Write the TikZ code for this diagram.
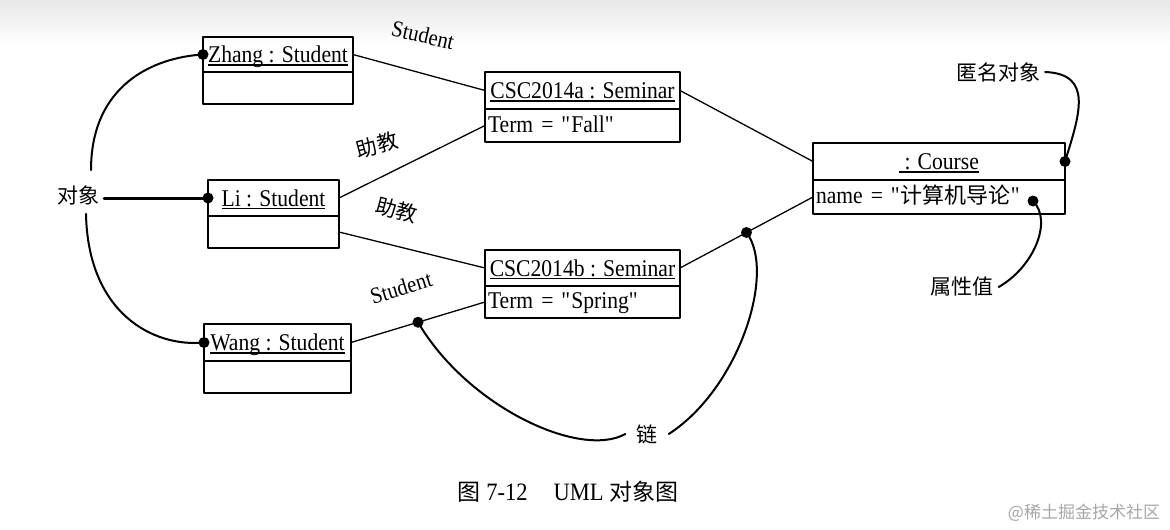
\documentclass[tikz,border=0pt]{standalone}
\usepackage{fontspec}
\setmainfont{Liberation Serif}[FakeStretch=0.9]
\newfontfamily\cjk{Noto Sans CJK SC}
\usetikzlibrary{positioning,calc}
\newcommand\ul[1]{\setbox0\hbox{#1}\rlap{\rule[-3pt]{\wd0}{1.5pt}}\box0}
\newcommand\zh[1]{{\cjk\fontsize{22}{26}\selectfont #1}}
\tikzset{
	objhead/.style={draw,line width=2.5pt,inner sep=0pt,outer sep=0pt,text height=20pt,text depth=4pt,font=\fontsize{24}{28}\selectfont},
	objattr/.style={draw,line width=2.5pt,inner sep=3pt,outer sep=0pt,text height=19pt,text depth=6pt,align=left,font=\fontsize{24}{28}\selectfont},
	link/.style={line width=1.3pt},
	note/.style={line width=2pt},
	lbl/.style={font=\cjk\fontsize{21}{24}\selectfont,inner sep=5pt},
	role/.style={font=\fontsize{23}{26}\selectfont},
}
\begin{document}
\begin{tikzpicture}[x=1pt,y=-1pt,line join=round,line cap=round]
	\useasboundingbox (0,0) rectangle (1170,530);
	\shade[top color=black!9,bottom color=white] (0,0) rectangle (1170,45);
	% objects
	\node[objhead,minimum width=150pt,minimum height=35pt] (zhang) at (278,54.5) {\ul{Zhang : Student}};
	\node[objattr,text width=144pt,minimum height=32pt,below=0pt of zhang] (zhangA) {};
	\node[objhead,minimum width=131pt,minimum height=36pt] (li) at (273.5,198) {\ul{Li : Student}};
	\node[objattr,text width=125pt,minimum height=32pt,below=0pt of li] (liA) {};
	\node[objhead,minimum width=147pt,minimum height=37pt] (wang) at (277.5,342.5) {\ul{Wang : Student}};
	\node[objattr,text width=141pt,minimum height=32pt,below=0pt of wang] (wangA) {};
	\node[objhead,minimum width=195pt,minimum height=37pt] (csca) at (582.5,90.5) {\ul{CSC2014a : Seminar}};
	\node[objattr,text width=189pt,minimum height=33pt,below=0pt of csca] (cscaT) {Term = \textquotedbl Fall\textquotedbl};
	\node[objhead,minimum width=195pt,minimum height=36pt] (cscb) at (582.5,268) {\ul{CSC2014b : Seminar}};
	\node[objattr,text width=189pt,minimum height=32pt,below=0pt of cscb] (cscbT) {Term = \textquotedbl Spring\textquotedbl};
	\node[objhead,minimum width=252pt,minimum height=37pt] (course) at (939,161.5) {\ul{\ : Course}};
	\node[objattr,text width=246pt,minimum height=34pt,below=0pt of course] (courseT) {name = \textquotedbl\zh{计算机导论}\textquotedbl};
	% links
	\draw[link] (zhang.east) -- (csca.west);
	\draw[link] (li.east) -- (cscaT.west);
	\draw[link] (liA.east) -- (cscb.west);
	\draw[link] (wang.east) -- (cscbT.west);
	\draw[link] (csca.east) -- (course.west);
	\draw[link] (cscb.east) -- (courseT.west);
	\node[role,rotate=-13] (st1) at (423,35) {Student};
	\node[lbl,rotate=15] (ta1) at (377,145) {助教};
	\node[lbl,rotate=-15] (ta2) at (397,210) {助教};
	\node[role,rotate=17] (st2) at (401,288) {Student};
	% notes
	\path
	($(wang.east)!.5!(cscbT.west)$) coordinate (lnkA)
	($(cscb.east)!.5!(courseT.west)$) coordinate (lnkB)
	(1033,201) coordinate (val)
	;
	\node[lbl] (objlbl) at (78,195) {对象};
	\node[lbl] (anonlbl) at (998,72) {匿名对象};
	\node[lbl] (vallbl) at (962,287) {属性值};
	\node[lbl,inner sep=11pt] (lnklbl) at (647,434) {链};
	\draw[note] ($(objlbl.north)+(13,-10)$) .. controls +(0,-85) and +(-50,3) .. (zhang.west);
	\draw[note] ($(objlbl.south)+(8,4)$) .. controls +(2,100) and +(-50,5) .. (wang.west);
	\draw[note,line width=3pt] (objlbl.east |- li.west) -- (li.west);
	\draw[note] (anonlbl.east) .. controls +(48,2) and +(15,-48) .. (course.east);
	\draw[note] (val) .. controls +(20,20) and +(35,-20) .. (vallbl.east);
	\draw[note] (lnkA) .. controls +(50,85) and +(-45,25) .. (lnklbl.west);
	\draw[note] (lnklbl.east) .. controls +(70,-45) and +(30,40) .. (lnkB);
	\foreach \p in {zhang.west,li.west,wang.west,course.east,lnkA,lnkB,val}
	\fill (\p) circle (5.5);
	% caption
	\node[font=\fontsize{25}{28}\selectfont] (cap) at (568,492) {{\cjk\fontsize{23}{26}\selectfont 图} 7-12\hspace{26pt}UML {\cjk\fontsize{23}{26}\selectfont 对象图}};
	\node[font=\cjk\fontsize{17}{20}\selectfont,text=black!35] (wm) at (1084,513) {@稀土掘金技术社区};
\end{tikzpicture}
\end{document}
